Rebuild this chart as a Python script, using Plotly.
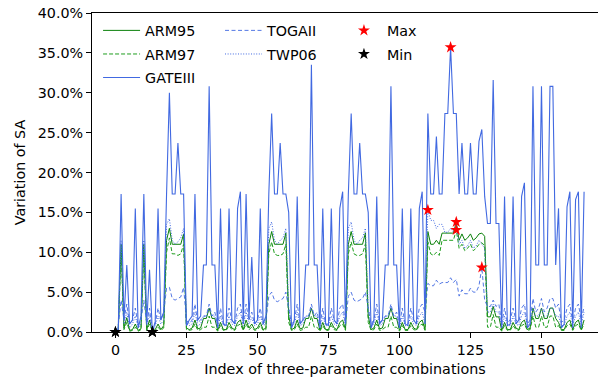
import numpy as np
import plotly.graph_objects as go

# Variation of SA (%) for each three-parameter combination, per case
idx = list(range(166))

arm95 = [
    0.0, 0.3, 11.0, 0.5, 1.8, 0.2, 0.3, 1.0, 0.2, 0.4,
    11.0, 0.3, 1.5, 0.1, 0.3, 1.0, 0.3, 0.8, 11.5, 13.0,
    11.0, 11.0, 11.0, 11.0, 12.3, 0.5, 0.3, 0.5, 1.5, 0.4,
    0.5, 1.7, 1.7, 3.0, 1.7, 1.7, 0.2, 1.2, 0.3, 0.3,
    1.2, 0.5, 0.3, 1.2, 1.5, 0.3, 1.5, 0.5, 1.0, 0.3,
    0.5, 1.2, 0.3, 0.5, 11.0, 12.6, 11.0, 11.0, 11.0, 11.0,
    12.4, 2.0, 0.3, 0.5, 1.5, 0.4, 0.5, 1.7, 1.7, 3.0,
    1.7, 1.7, 0.2, 1.2, 0.3, 0.3, 1.2, 0.5, 0.3, 1.2,
    1.5, 0.3, 11.0, 12.6, 11.0, 11.0, 11.0, 11.0, 12.4, 2.0,
    0.3, 0.5, 1.5, 0.4, 0.5, 1.7, 1.7, 3.0, 1.7, 1.7,
    0.2, 1.2, 0.3, 0.3, 1.2, 0.5, 0.3, 1.2, 1.5, 0.3,
    12.6, 11.0, 11.0, 11.5, 11.0, 12.4, 12.4, 12.4, 12.4, 12.4,
    13.8, 11.5, 12.3, 11.5, 11.8, 12.3, 11.5, 11.8, 12.3, 12.4,
    12.0, 1.9, 1.9, 3.2, 1.9, 1.9, 0.2, 1.2, 0.3, 0.3,
    1.2, 0.5, 0.3, 1.2, 1.5, 0.3, 0.5, 3.0, 1.7, 1.7,
    3.0, 1.7, 1.7, 3.0, 3.0, 1.7, 1.2, 0.3, 0.3, 1.2,
    1.5, 0.3, 1.2, 1.5, 0.3, 1.5,
]

arm97 = [
    0.0, 0.2, 10.3, 0.3, 1.2, 0.1, 0.2, 0.6, 0.1, 0.3,
    10.3, 0.2, 1.0, 0.1, 0.2, 0.6, 0.2, 0.5, 10.0, 11.8,
    9.8, 9.8, 9.6, 9.8, 11.0, 0.3, 0.2, 0.3, 1.0, 0.2,
    0.3, 0.6, 0.6, 2.0, 0.6, 0.6, 0.1, 0.8, 0.2, 0.2,
    0.8, 0.3, 0.2, 0.8, 1.0, 0.2, 1.0, 0.3, 0.6, 0.2,
    0.3, 0.8, 0.2, 0.3, 9.8, 11.3, 9.8, 9.6, 9.6, 9.8,
    11.0, 1.2, 0.2, 0.3, 1.0, 0.2, 0.3, 0.6, 0.6, 2.0,
    0.6, 0.6, 0.1, 0.8, 0.2, 0.2, 0.8, 0.3, 0.2, 0.8,
    1.0, 0.2, 9.8, 11.3, 9.8, 9.6, 9.6, 9.8, 11.0, 1.2,
    0.2, 0.3, 1.0, 0.2, 0.3, 0.6, 0.6, 2.0, 0.6, 0.6,
    0.1, 0.8, 0.2, 0.2, 0.8, 0.3, 0.2, 0.8, 1.0, 0.2,
    11.3, 9.8, 9.6, 10.0, 9.6, 11.5, 11.5, 11.5, 11.5, 11.5,
    12.8, 10.5, 11.0, 10.2, 10.5, 11.0, 10.2, 10.5, 11.0, 11.2,
    10.8, 0.6, 0.6, 2.2, 0.6, 0.6, 0.1, 0.8, 0.2, 0.2,
    0.8, 0.3, 0.2, 0.8, 1.0, 0.2, 0.3, 2.0, 0.6, 0.6,
    2.0, 0.6, 0.6, 2.0, 2.0, 0.6, 0.8, 0.2, 0.2, 0.8,
    1.0, 0.2, 0.8, 1.0, 0.2, 1.0,
]

gate3 = [
    0.2, 0.3, 17.3, 1.5, 8.4, 1.0, 1.5, 15.5, 0.5, 2.0,
    17.3, 1.0, 7.8, 0.0, 1.3, 15.5, 1.5, 2.5, 17.3, 30.0,
    17.3, 17.3, 23.7, 17.3, 17.3, 0.8, 1.5, 2.0, 17.3, 1.5,
    2.0, 8.4, 8.4, 30.8, 8.4, 8.4, 0.5, 15.5, 1.0, 0.8,
    15.5, 1.5, 1.0, 15.5, 17.6, 1.0, 17.3, 1.5, 9.4, 1.0,
    1.5, 15.5, 1.0, 2.0, 17.3, 27.4, 17.3, 17.3, 23.7, 17.3,
    17.3, 15.0, 0.5, 1.5, 17.0, 1.0, 1.5, 8.4, 8.4, 33.5,
    8.4, 8.4, 0.5, 15.5, 1.0, 0.8, 15.5, 1.5, 1.0, 15.5,
    17.6, 1.0, 17.3, 27.4, 17.3, 17.3, 23.7, 17.3, 17.3, 15.0,
    0.5, 1.5, 17.0, 1.0, 1.5, 8.4, 8.4, 30.8, 8.4, 8.4,
    0.5, 15.5, 1.0, 0.8, 15.5, 1.5, 1.0, 15.5, 17.6, 1.0,
    27.4, 17.3, 17.3, 24.5, 17.3, 17.3, 27.4, 27.4, 35.7, 27.4,
    27.4, 17.3, 23.7, 17.3, 17.3, 23.7, 17.3, 17.3, 23.9, 25.4,
    17.0, 13.6, 13.6, 31.6, 13.6, 13.6, 0.5, 17.0, 0.8, 1.0,
    17.0, 1.0, 1.5, 17.0, 18.7, 0.5, 1.0, 30.8, 8.4, 8.4,
    30.8, 8.4, 8.4, 30.8, 30.8, 8.4, 15.5, 0.5, 1.0, 15.7,
    17.6, 0.5, 16.6, 17.6, 0.5, 17.6,
]

togaii = [
    0.1, 0.8, 4.0, 1.5, 3.5, 1.0, 1.5, 3.0, 0.8, 1.5,
    4.0, 1.0, 3.0, 0.02, 1.0, 3.0, 1.5, 2.5, 5.5, 5.6,
    4.2, 4.0, 4.2, 4.4, 5.6, 1.5, 1.0, 1.5, 3.5, 1.2,
    1.5, 2.0, 2.0, 3.5, 2.0, 2.5, 0.8, 3.0, 1.0, 1.0,
    3.0, 1.5, 1.0, 3.0, 3.5, 1.0, 3.5, 1.5, 2.5, 1.0,
    1.5, 3.0, 1.0, 1.5, 4.5, 5.0, 4.0, 3.8, 4.0, 4.2,
    5.0, 3.0, 1.0, 1.5, 3.5, 1.2, 1.5, 2.0, 2.0, 3.5,
    2.0, 2.5, 0.8, 3.0, 1.0, 1.0, 3.0, 1.5, 1.0, 3.0,
    3.5, 1.0, 4.5, 5.0, 4.0, 3.8, 4.0, 4.2, 5.0, 3.0,
    1.0, 1.5, 3.5, 1.2, 1.5, 2.0, 2.0, 3.5, 2.0, 2.5,
    0.8, 3.0, 1.0, 1.0, 3.0, 1.5, 1.0, 3.0, 3.5, 2.5,
    6.1, 5.8, 5.8, 6.5, 6.0, 6.2, 6.2, 6.2, 6.8, 6.2,
    6.6, 4.5, 5.3, 4.8, 4.8, 5.5, 5.0, 5.0, 5.8, 8.1,
    4.0, 3.2, 3.2, 4.0, 3.2, 3.5, 1.0, 3.0, 1.2, 1.5,
    3.0, 1.5, 1.2, 3.0, 3.5, 1.0, 1.5, 4.2, 2.5, 3.0,
    4.2, 2.5, 3.0, 4.2, 4.2, 3.0, 3.5, 1.2, 1.5, 3.0,
    3.5, 1.2, 3.0, 3.5, 1.5, 3.2,
]

twp06 = [
    0.05, 0.5, 11.5, 1.0, 2.5, 0.5, 1.0, 2.0, 0.5, 1.0,
    11.5, 0.8, 2.2, 0.02, 0.8, 2.0, 1.0, 1.5, 13.5, 14.2,
    11.5, 11.0, 11.3, 11.8, 13.0, 1.0, 0.8, 1.0, 2.5, 0.8,
    1.0, 2.0, 2.0, 3.0, 2.0, 2.0, 0.5, 2.0, 0.8, 0.8,
    2.0, 1.0, 0.8, 2.0, 2.5, 0.8, 2.5, 1.0, 1.8, 0.8,
    1.0, 2.0, 0.8, 1.0, 13.0, 13.8, 11.5, 11.0, 11.5, 11.8,
    13.0, 3.0, 0.8, 1.0, 2.5, 0.8, 1.0, 2.0, 2.0, 3.0,
    2.0, 2.0, 0.5, 2.0, 0.8, 0.8, 2.0, 1.0, 0.8, 2.0,
    2.5, 0.8, 13.0, 13.8, 11.5, 11.0, 11.5, 11.8, 13.0, 3.0,
    0.8, 1.0, 2.5, 0.8, 1.0, 2.0, 2.0, 3.0, 2.0, 2.0,
    0.5, 2.0, 0.8, 0.8, 2.0, 1.0, 0.8, 2.0, 2.5, 1.0,
    15.3, 14.0, 14.0, 13.0, 13.5, 13.5, 12.5, 12.5, 13.0, 12.5,
    13.5, 11.0, 11.5, 10.5, 10.8, 11.5, 10.5, 10.8, 11.5, 11.0,
    10.5, 2.5, 2.5, 3.5, 2.5, 2.5, 0.5, 2.0, 0.8, 0.8,
    2.0, 1.0, 0.8, 2.0, 2.5, 0.8, 1.0, 3.0, 2.0, 2.0,
    3.0, 2.0, 2.0, 3.0, 3.0, 2.0, 2.0, 0.8, 0.8, 2.0,
    2.5, 0.8, 2.0, 2.5, 0.8, 2.5,
]

series = [
    ("ARM95", arm95, dict(color="#0a800a", width=1.0)),
    ("ARM97", arm97, dict(color="#1f9e1f", width=1.0, dash="4px,2px")),
    ("GATEIII", gate3, dict(color="#4169e1", width=1.1)),
    ("TOGAII", togaii, dict(color="#4169e1", width=0.9, dash="4px,2.5px")),
    ("TWP06", twp06, dict(color="#4169e1", width=1.0, dash="1px,1.6px")),
]

FONT = "DejaVu Sans"
FS = 14.3
fig = go.Figure()

for k, (name, vals, line) in enumerate(series):
    fig.add_trace(go.Scatter(
        x=idx, y=vals, mode="lines", name=name, line=line, legendgroup=name,
        legend="legend" if k < 3 else "legend2",
    ))

# extreme values of every case, marked with stars
max_x = [idx[int(np.argmax(v))] for _, v, _ in series]
max_y = [max(v) for _, v, _ in series]
min_x = [idx[int(np.argmin(v))] for _, v, _ in series]
min_y = [min(v) for _, v, _ in series]

fig.add_trace(go.Scatter(
    x=max_x, y=max_y, mode="markers", name="Max", legend="legend3", legendgroup="Max",
    marker=dict(symbol="star", size=9, color="red", line=dict(width=0)),
))
fig.add_trace(go.Scatter(
    x=min_x, y=min_y, mode="markers", name="Min", legend="legend3", legendgroup="Min",
    marker=dict(symbol="star", size=9, color="black", line=dict(width=0)),
    cliponaxis=False,
))

leg_common = dict(
    bgcolor="rgba(0,0,0,0)", borderwidth=0, font=dict(family=FONT, size=FS, color="black"),
    tracegroupgap=2, yanchor="top", y=0.995, xanchor="left",
)

fig.update_layout(
    width=598, height=379,
    margin=dict(l=92, r=0, t=13, b=47),
    plot_bgcolor="white", paper_bgcolor="white",
    font=dict(family=FONT, size=FS, color="black"),
    legend=dict(x=0.012, itemwidth=37, **leg_common),
    legend2=dict(x=0.253, itemwidth=37, **leg_common),
    legend3=dict(x=0.492, itemwidth=36, **leg_common),
    xaxis=dict(
        range=[-8.25, 169.9], tickvals=[0, 25, 50, 75, 100, 125, 150],
        showline=True, linecolor="black", linewidth=1, mirror=True,
        ticks="outside", ticklen=5, tickcolor="black", showgrid=False, zeroline=False,
        title=dict(text="Index of three-parameter combinations", standoff=6,
                   font=dict(family=FONT, size=FS)),
        tickfont=dict(family=FONT, size=FS),
    ),
    yaxis=dict(
        range=[0, 40], dtick=5, tickformat=".1f", ticksuffix="%",
        showline=True, linecolor="black", linewidth=1,
        ticks="outside", ticklen=5, tickcolor="black", showgrid=False, zeroline=False,
        title=dict(text="Variation of SA", standoff=8, font=dict(family=FONT, size=FS)),
        tickfont=dict(family=FONT, size=FS),
    ),
)

fig.write_html("out.html")
